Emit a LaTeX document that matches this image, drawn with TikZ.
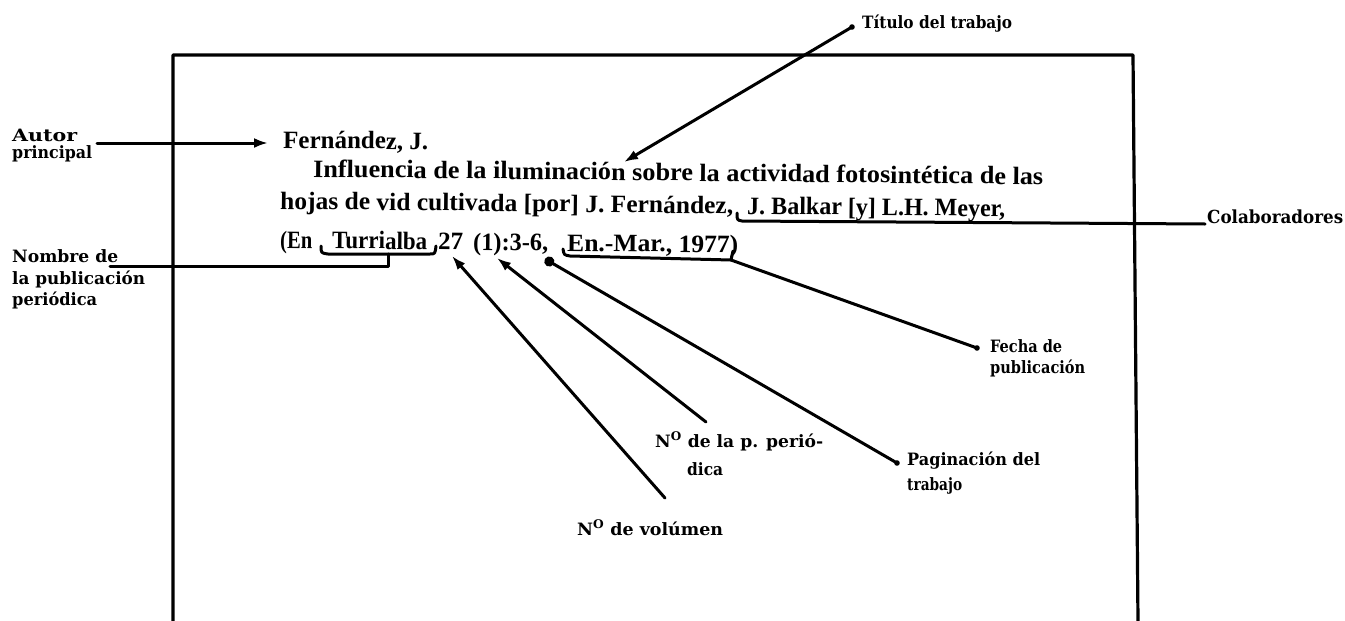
\documentclass[tikz,border=0pt]{standalone}
\usepackage{fontspec}
\setmainfont{DejaVu Serif}
\newfontfamily\bodyff{Liberation Serif}
\usepackage{graphicx}
\usetikzlibrary{arrows.meta}
\newcommand\fitto[2]{\resizebox{#1}{\height}{#2}}
\newcommand\Bfont{\bodyff\fontsize{25}{30}\selectfont\bfseries}
\newcommand\Lfont{\fontsize{17}{20}\selectfont\bfseries}
\newcommand\Cfont{\fontsize{18}{22}\selectfont\bfseries}
\tikzset{
  body/.style={font=\Bfont, inner sep=0pt, anchor=base west, rotate=-0.6},
  lab/.style={font=\Lfont, inner sep=0pt, anchor=base west},
  ln/.style={line width=3pt, line cap=round, line join=round},
  arr/.style={ln, -{Latex[length=14pt,width=10pt]}},
  arrdot/.style={ln, -{Circle[length=10pt]}},
  frame/.style={line width=3.2pt, line join=round},
}
\begin{document}
\begin{tikzpicture}[x=1pt,y=-1pt]
\fill[white] (0,0) rectangle (1345,621);
\useasboundingbox (0,0) rectangle (1345,621);
% frame
\draw[frame] (173,621) -- (173,55) -- (1133,55) -- (1138,621);

% reference text
\node[body] (l1) at (283,148) {\fitto{145pt}{Fernández, J.}};
\node[body] (l2) at (313,177) {\fitto{730pt}{Influencia de la iluminación sobre la actividad fotosintética de las}};
\node[body] (l3a) at (280,209) {\fitto{453pt}{hojas de vid cultivada [por] J. Fernández,}};
\node[body] (l3b) at (747,214) {\fitto{258pt}{J. Balkar [y] L.H. Meyer,}};
\node[body] (en) at (280,248) {\fitto{32pt}{(En}};
\node[body] (tur) at (332,248.5) {\fitto{95pt}{Turrialba}};
\node[body] (vol) at (438,249.5) {\fitto{25pt}{27}};
\node[body] (num) at (473,250) {\fitto{75pt}{(1):3-6,}};
\node[body] (fec) at (567,251) {\fitto{171pt}{En.-Mar., 1977)}};

% labels
\node[lab] (autor1) at (12,141) {\fitto{65pt}{Autor}};
\node[lab] (autor2) at (12,158) {\fitto{80pt}{principal}};
\node[lab] (nom1) at (12,262) {\fitto{106pt}{Nombre de}};
\node[lab] (nom2) at (12,284) {\fitto{133pt}{la publicación}};
\node[lab] (nom3) at (12,305) {\fitto{85pt}{periódica}};
\node[lab] (tit) at (862,28) {\fitto{150pt}{Título del trabajo}};
\node[lab, font=\Cfont] (col) at (1207,223) {\fitto{136pt}{Colaboradores}};
\node[lab] (fec1) at (990,352) {\fitto{72pt}{Fecha de}};
\node[lab] (fec2) at (990,373) {\fitto{95pt}{publicación}};
\node[lab] (pag1) at (907,465) {\fitto{133pt}{Paginación del}};
\node[lab] (pag2) at (907,490) {\fitto{55pt}{trabajo}};
\node[lab] (nper1) at (655,447) {\fitto{168pt}{N\textsuperscript{O} de la p. perió-}};
\node[lab] (nper2) at (687,475) {\fitto{36pt}{dica}};
\node[lab] (nvol) at (577,535) {\fitto{146pt}{N\textsuperscript{O} de volúmen}};

% connector end points
\coordinate (autorS) at (97,143);
\coordinate (autorE) at (268,143);
\coordinate (titS) at (852,27);
\coordinate (titE) at (624,162);
\coordinate (nomS) at (110,266);
\coordinate (nomK) at (388,266);
\coordinate (nomU) at (388,254);
\coordinate (colS) at (1205,224);
\coordinate (colK) at (742,221);
\coordinate (fecS) at (977,348);
\coordinate (fecK) at (731,260);
\coordinate (pagS) at (897,463);
\coordinate (pagE) at (545,259);
\coordinate (nperS) at (706,422);
\coordinate (nperE) at (497,258);
\coordinate (nvolS) at (665,498);
\coordinate (nvolE) at (452,256);

% autor
\draw[arr] (autorS) -- (autorE);
% titulo
\draw[arr] (titS) -- (titE);
\fill (titS) circle (2.8);
% nombre de la publicacion
\draw[ln] (nomS) -- (nomK) -- (nomU);
\draw[ln] (321,246) .. controls (321,253) .. (328,254) -- (430,254) .. controls (435,254) .. (436,246);
% colaboradores
\draw[ln] (737,213) .. controls (737,220) .. (colK) -- (colS);
% fecha
\draw[ln] (563,249) .. controls (564,255) .. (570,256) -- (fecK) -- (733,251);
\draw[ln] (fecK) -- (fecS);
\fill (fecS) circle (2.8);
% paginacion
\draw[arrdot] (pagS) -- (pagE);
\fill (pagS) circle (2.8);
% numero
\draw[arr] (nperS) -- (nperE);
% volumen
\draw[arr] (nvolS) -- (nvolE);
\end{tikzpicture}
\end{document}
